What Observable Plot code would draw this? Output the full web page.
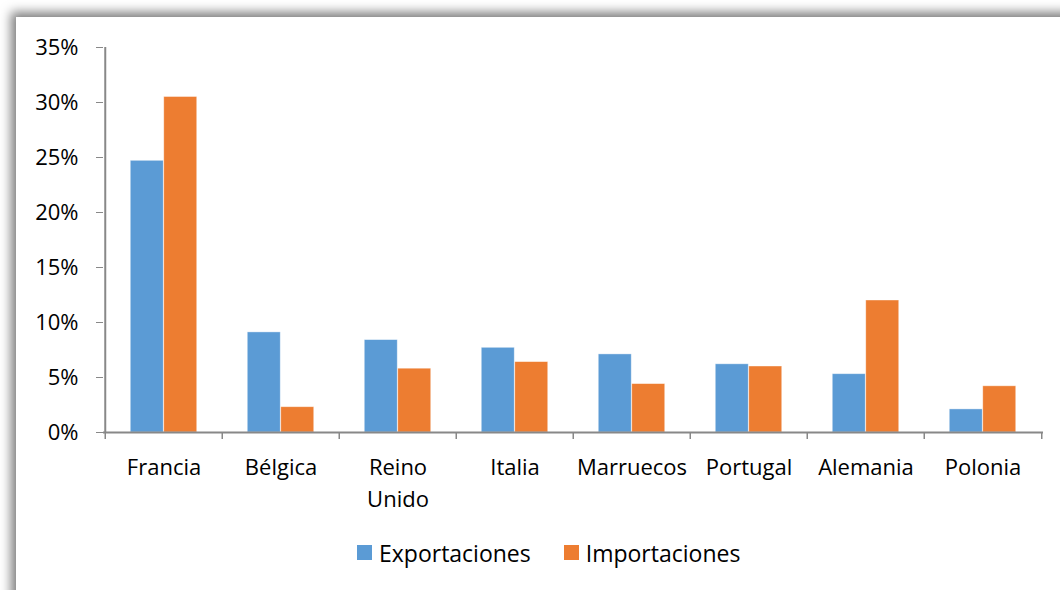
<!DOCTYPE html>
<html>
<head>
<meta charset="utf-8">
<script src="https://cdn.jsdelivr.net/npm/d3@7"></script>
<script src="https://cdn.jsdelivr.net/npm/@observablehq/plot@0.6"></script>
<style>
  html, body { margin: 0; padding: 0; background: #fff; width: 1060px; height: 590px; overflow: hidden; }
  #frame { position: absolute; left: 16px; top: 17px; width: 1100px; height: 650px; background: #fff;
           box-shadow: -5px -5px 10px rgba(0,0,0,0.5); }
  #chart { position: absolute; left: 0; top: 0; }
  #legend { position: absolute; left: 357px; top: 535px; white-space: nowrap;
            font-family: "Open Sans", sans-serif; font-size: 23px; color: #000; }
  .item { display: inline-flex; align-items: center; margin-right: 33px; }
  .sw { width: 15px; height: 15px; display: inline-block; margin-right: 7px; }
</style>
</head>
<body>
<div id="frame"></div>
<div id="chart"></div>
<div id="legend"></div>
<script>
const countries = ["Francia", "Bélgica", "Reino Unido", "Italia", "Marruecos", "Portugal", "Alemania", "Polonia"];
const countryLabels = ["Francia", "Bélgica", "Reino\nUnido", "Italia", "Marruecos", "Portugal", "Alemania", "Polonia"];
const exportaciones = [0.247, 0.091, 0.084, 0.077, 0.071, 0.062, 0.053, 0.021];
const importaciones = [0.305, 0.023, 0.058, 0.064, 0.044, 0.060, 0.120, 0.042];
const seriesNames = ["Exportaciones", "Importaciones"];
const seriesColors = ["#5B9BD5", "#ED7D31"];
const yTicks = [0, 0.05, 0.10, 0.15, 0.20, 0.25, 0.30, 0.35];

const W = 1060, H = 520, mL = 103, mR = 17, mT = 47, mB = 88;
const step = (W - mL - mR) / countries.length;
const barW = step * 0.285;
const outer = (step - 2 * barW) / 2;

const expData = countries.map((c, i) => ({country: c, value: exportaciones[i]}));
const impData = countries.map((c, i) => ({country: c, value: importaciones[i]}));
const labelData = countries.map((c, i) => ({country: c, label: countryLabels[i]}));

const chart = Plot.plot({
  width: W, height: H,
  marginLeft: mL, marginRight: mR, marginTop: mT, marginBottom: mB,
  style: {background: "transparent", overflow: "visible", fontFamily: "'Open Sans', sans-serif", fontSize: "22px", color: "#000"},
  x: {domain: countries, padding: 0, axis: null},
  y: {domain: [0, 0.35], axis: null},
  marks: [
    Plot.barY(expData, {x: "country", y: "value", fill: seriesColors[0], insetLeft: outer, insetRight: step - outer - barW,
      stroke: "#fff", strokeOpacity: 0.5, strokeWidth: 0.8}),
    Plot.barY(impData, {x: "country", y: "value", fill: seriesColors[1], insetLeft: outer + barW, insetRight: outer,
      stroke: "#fff", strokeOpacity: 0.5, strokeWidth: 0.8}),
    Plot.axisY({ticks: yTicks, tickFormat: d => Math.round(d * 100) + "%", tickSize: 7, tickPadding: 18,
      stroke: "#888", fill: "#000", fontSize: 22, label: null}),
    Plot.ruleX([countries[0]], {x: d => d, dx: -step / 2, y1: 0, y2: 0.35, stroke: "#888", strokeWidth: 2}),
    Plot.ruleY([0], {stroke: "#888", strokeWidth: 2}),
    Plot.ruleX(countries, {x: d => d, y1: 0, y2: 0, insetBottom: -7, dx: -step / 2, stroke: "#888", strokeWidth: 1.5}),
    Plot.ruleX([countries[countries.length - 1]], {x: d => d, y1: 0, y2: 0, insetBottom: -7, dx: step / 2, stroke: "#888", strokeWidth: 1.5}),
    Plot.text(labelData, {x: "country", y: 0, text: "label", dy: 20, lineAnchor: "top", lineHeight: 1.45, fontSize: 22, fill: "#000"})
  ]
});
document.getElementById("chart").appendChild(chart);

const legend = document.getElementById("legend");
seriesNames.forEach((s, i) => {
  const item = document.createElement("span");
  item.className = "item";
  const sw = document.createElement("span");
  sw.className = "sw";
  sw.style.background = seriesColors[i];
  item.appendChild(sw);
  item.appendChild(document.createTextNode(s));
  legend.appendChild(item);
});
</script>
</body>
</html>
